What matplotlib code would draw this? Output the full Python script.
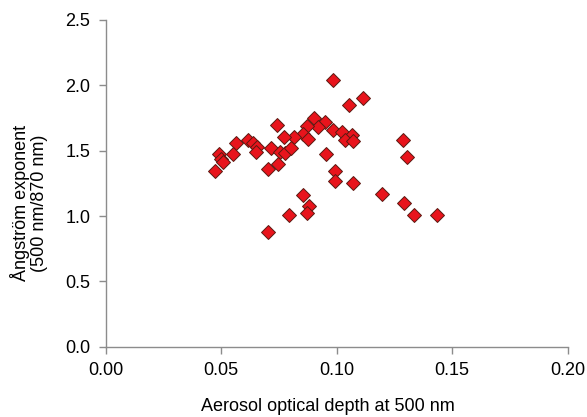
import matplotlib
matplotlib.use("Agg")
import matplotlib.pyplot as plt

# aerosol optical depth at 500 nm
aod = [0.0985, 0.1113, 0.1053, 0.0902, 0.0949, 0.0920, 0.0873, 0.0743,
       0.0985, 0.1024, 0.1065, 0.0855, 0.0877, 0.0816, 0.0773, 0.1036,
       0.1069, 0.1286, 0.0564, 0.0615, 0.0639, 0.0654, 0.0651, 0.0552,
       0.0714, 0.0755, 0.0776, 0.0802, 0.0492, 0.0498, 0.0509, 0.0473,
       0.0701, 0.0745, 0.0952, 0.1303, 0.0993, 0.0993, 0.1072, 0.1195,
       0.0853, 0.0881, 0.0870, 0.0792, 0.0701, 0.1293, 0.1336, 0.1436]
# angstrom exponent (500/870)
alpha = [2.04, 1.90, 1.85, 1.75, 1.72, 1.68, 1.69, 1.695,
         1.66, 1.64, 1.62, 1.63, 1.59, 1.605, 1.605, 1.58,
         1.575, 1.58, 1.56, 1.58, 1.56, 1.53, 1.49, 1.47,
         1.52, 1.49, 1.48, 1.52, 1.47, 1.435, 1.415, 1.34,
         1.36, 1.395, 1.47, 1.45, 1.34, 1.27, 1.25, 1.17,
         1.16, 1.076, 1.025, 1.008, 0.876, 1.10, 1.005, 1.005]

xticks = [0.00, 0.05, 0.10, 0.15, 0.20]
yticks = [0.0, 0.5, 1.0, 1.5, 2.0, 2.5]

plt.rcParams['font.family'] = ['Liberation Sans', 'DejaVu Sans']

fig = plt.figure(figsize=(5.87, 4.17), dpi=100)
ax = fig.add_axes([0.180, 0.168, 0.787, 0.785])

ax.plot(aod, alpha, linestyle='none', marker='D', markersize=7.5,
        markerfacecolor='#e8141c', markeredgecolor='#5a1a12', markeredgewidth=0.7)

ax.set_xlim(0, 0.2)
ax.set_ylim(0, 2.5)
ax.set_xticks(xticks)
ax.set_xticklabels(["%.2f" % t for t in xticks])
ax.set_yticks(yticks)
ax.set_yticklabels(["%.1f" % t for t in yticks])

for s in ['top', 'right']:
    ax.spines[s].set_visible(False)
for s in ['left', 'bottom']:
    ax.spines[s].set_color('#8c8c8c')
    ax.spines[s].set_linewidth(1.0)
ax.tick_params(colors='#8c8c8c', labelcolor='black', labelsize=13,
               direction='out', length=5, width=1.0, pad=6)

ax.set_xlabel("Aerosol optical depth at 500 nm", fontsize=13)
ax.set_ylabel("Ångström exponent\n(500 nm/870 nm)", fontsize=13, linespacing=1.1)
ax.xaxis.set_label_coords(0.481, -0.155)
ax.yaxis.set_label_coords(-0.125, 0.44)

fig.savefig("out.png", dpi=100)
